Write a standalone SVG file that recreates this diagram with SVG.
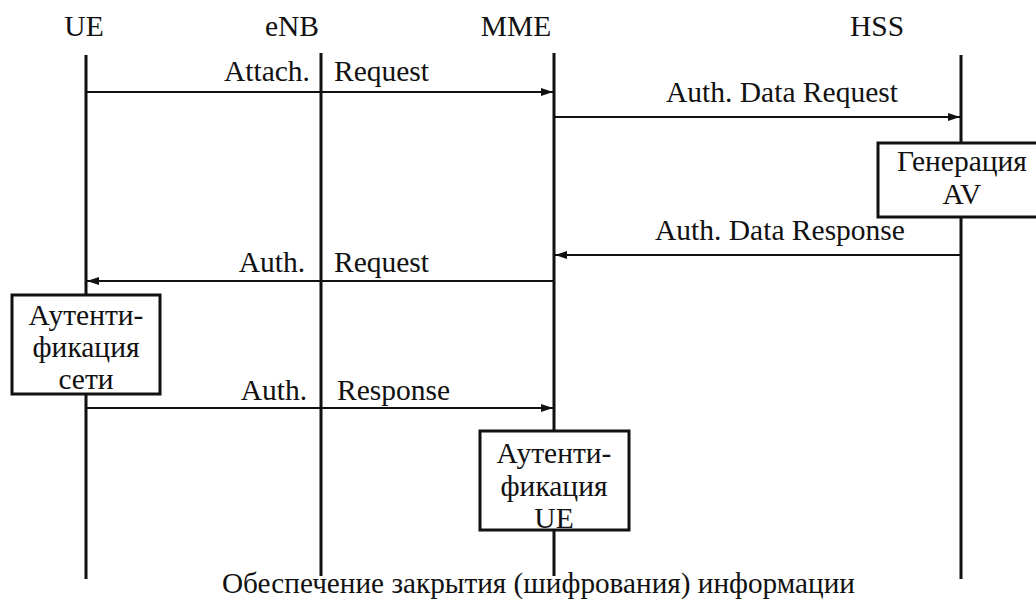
<svg xmlns="http://www.w3.org/2000/svg" width="1036" height="599" viewBox="0 0 1036 599">
<style>
text{font-family:'Liberation Serif','Times New Roman','DejaVu Serif',Times,serif;fill:#111;font-size:29.5px}
.mid{text-anchor:middle}
.end{text-anchor:end}
.life{stroke:#111;stroke-width:3;fill:none}
.msg{stroke:#111;stroke-width:2;fill:none;marker-end:url(#ah)}
.box{fill:#fff;stroke:#111;stroke-width:3}
</style>
<defs>
<marker id="ah" viewBox="0 0 12 10" refX="12" refY="5" markerWidth="12" markerHeight="10" markerUnits="userSpaceOnUse" orient="auto">
<path d="M0,1 L12,5 L0,9 Z" fill="#111"/>
</marker>
</defs>
<rect width="1036" height="599" fill="#fff"/>
<g id="lifelines">
<line class="life" x1="86" y1="55" x2="86" y2="579"/>
<line class="life" x1="321" y1="53" x2="321" y2="576"/>
<line class="life" x1="554" y1="53" x2="554" y2="576"/>
<line class="life" x1="961" y1="55" x2="961" y2="579"/>
</g>
<g font-family="Liberation Serif, Times New Roman, serif">
<g id="headers">
<text id="h-ue" class="mid" x="84" y="36">UE</text>
<text id="h-enb" class="mid" x="292" y="36">eNB</text>
<text id="h-mme" class="mid" x="516" y="36">MME</text>
<text id="h-hss" class="mid" x="877" y="36">HSS</text>
</g>
<g id="connectors">
<line class="msg" x1="86" y1="92" x2="553" y2="92"/>
<line class="msg" x1="554" y1="117" x2="960" y2="117"/>
<line class="msg" x1="961" y1="255" x2="555" y2="255"/>
<line class="msg" x1="554" y1="281" x2="87" y2="281"/>
<line class="msg" x1="86" y1="408" x2="553" y2="408"/>
<text class="end" x="310" y="81">Attach.</text>
<text x="334" y="81">Request</text>
<text class="mid" x="782" y="102">Auth. Data Request</text>
<text class="mid" x="780" y="240">Auth. Data Response</text>
<text class="end" x="305" y="272">Auth.</text>
<text x="334" y="272">Request</text>
<text class="end" x="307" y="400">Auth.</text>
<text x="337" y="400">Response</text>
</g>
<g id="node-hss-gen">
<rect class="box" x="878" y="143" width="170" height="74"/>
<text class="mid" x="962" y="171">Генерация</text>
<text class="mid" x="962" y="204">AV</text>
</g>
<g id="node-ue-auth">
<rect class="box" x="12" y="295" width="148" height="99"/>
<text class="mid" x="86" y="325">Аутенти-</text>
<text class="mid" x="86" y="357">фикация</text>
<text class="mid" x="86" y="389">сети</text>
</g>
<g id="node-mme-auth">
<rect class="box" x="480" y="431" width="149" height="99"/>
<text class="mid" x="554" y="463">Аутенти-</text>
<text class="mid" x="554" y="496">фикация</text>
<text class="mid" x="554" y="528">UE</text>
</g>
<g id="footer">
<text x="222" y="593" textLength="633" lengthAdjust="spacingAndGlyphs">Обеспечение закрытия (шифрования) информации</text>
</g>
</g>
</svg>
